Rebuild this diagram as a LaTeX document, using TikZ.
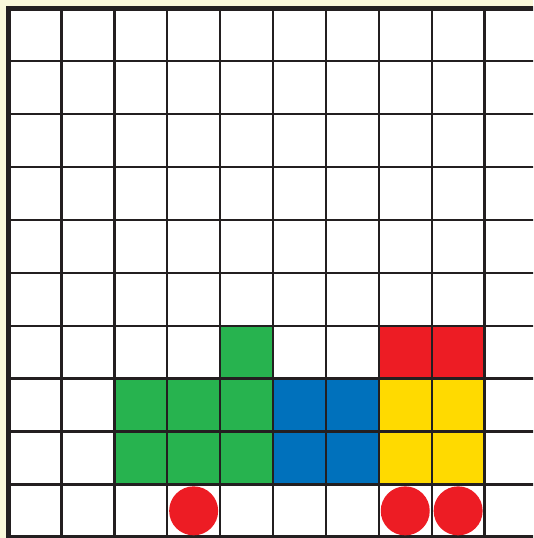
\documentclass[tikz,border=0pt]{standalone}
\definecolor{cream}{RGB}{250,248,218}
\definecolor{gridc}{RGB}{35,31,32}
\definecolor{pgreen}{RGB}{39,179,79}
\definecolor{pblue}{RGB}{0,113,188}
\definecolor{pred}{RGB}{237,28,36}
\definecolor{pyellow}{RGB}{255,218,0}
\tikzset{
  gridline/.style={draw=gridc,line width=2.4pt},
  borderline/.style={draw=gridc,line width=5pt},
  token/.style={circle,fill=pred,minimum size=49pt,inner sep=0pt,draw=none},
}
\begin{document}
\begin{tikzpicture}[x=1pt,y=-1pt]
\useasboundingbox (0,0) rectangle (533,538);
\clip (0,0) rectangle (533,538);
\fill[cream] (0,0) rectangle (533,538);
\def\ox{8.5}\def\oy{8.3}\def\cs{52.9}
\fill[white] (\ox,\oy) rectangle (560,560);
% filled cells
\foreach \c/\r/\col in {4/6/pgreen,2/7/pgreen,3/7/pgreen,4/7/pgreen,2/8/pgreen,3/8/pgreen,4/8/pgreen,
  5/7/pblue,6/7/pblue,5/8/pblue,6/8/pblue,
  7/6/pred,8/6/pred,
  7/7/pyellow,8/7/pyellow,7/8/pyellow,8/8/pyellow}{
  \fill[\col] ({\ox+\c*\cs},{\oy+\r*\cs}) rectangle ({\ox+(\c+1)*\cs},{\oy+(\r+1)*\cs});
}
% grid
\foreach \i in {1,...,9}{
  \draw[gridline] ({\ox+\i*\cs},\oy) -- ({\ox+\i*\cs},{\oy+10*\cs});
  \draw[gridline] (\ox,{\oy+\i*\cs}) -- ({\ox+10*\cs},{\oy+\i*\cs});
}
\draw[borderline] ({\ox+10*\cs},\oy) -- (\ox,\oy) -- (\ox,{\oy+10*\cs}) -- ({\ox+10*\cs},{\oy+10*\cs}) -- cycle;
% tokens
\node[token] (t1) at ({\ox+3.5*\cs},{\oy+9.5*\cs}) {};
\node[token] (t2) at ({\ox+7.5*\cs},{\oy+9.5*\cs}) {};
\node[token] (t3) at ({\ox+8.5*\cs},{\oy+9.5*\cs}) {};
\end{tikzpicture}
\end{document}
